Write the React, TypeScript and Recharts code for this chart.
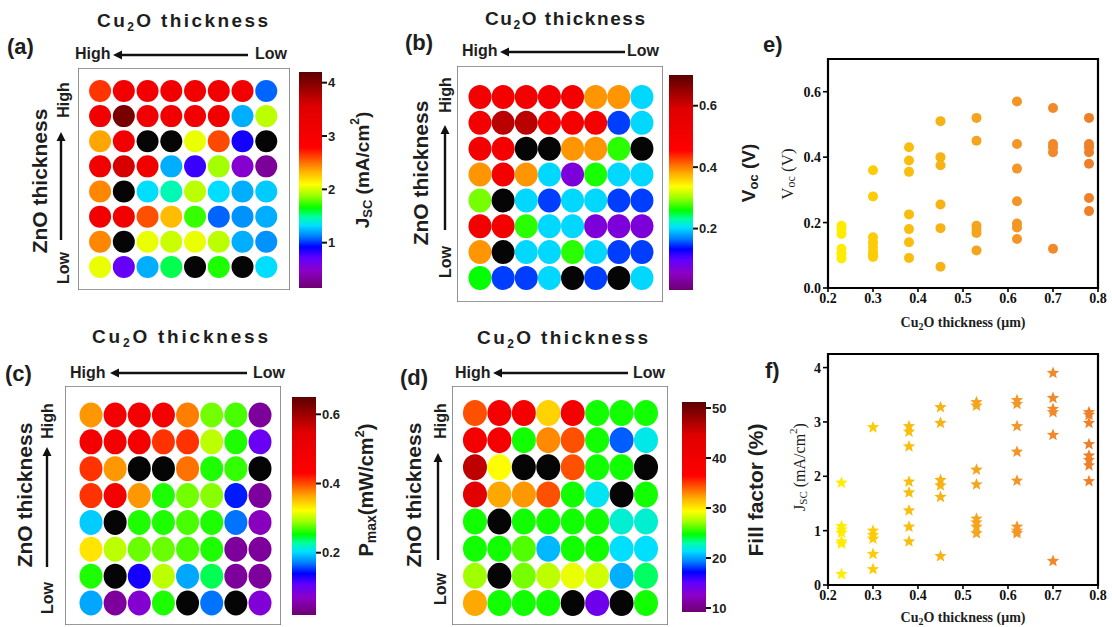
import React from 'react';
import { ScatterChart, Scatter, XAxis, YAxis, ReferenceArea } from 'recharts';

const SANS = '"Liberation Sans", Arial, sans-serif';
const SERIF = '"Liberation Serif", "Times New Roman", serif';
const INK = '#1e1e1e';

// rainbow colormap shared by the four maps and their colour bars
const CMAP_POS = [0, 0.08, 0.14, 0.19, 0.24, 0.29, 0.33, 0.37, 0.43, 0.48, 0.54, 0.6, 0.65, 0.84, 1];
const CMAP_HEX = [
  '#6e0070', '#8c00c8', '#6000ff', '#0000ff', '#0080ff', '#00e0ff', '#00ffa0', '#00ff00',
  '#a0ff00', '#ffff00', '#ffb000', '#ff5000', '#ff0000', '#e00000', '#5a0000',
];

// 8 x 8 device maps, rows = ZnO high -> low, columns = Cu2O high -> low; null = dead cell
const JSC_MAP = [
  [2.65, 3.1, 3.1, 3.1, 3.1, 3.1, 3.1, 1.08],
  [3.1, 4.05, 3.1, 3.1, 3.1, 3.1, 1.22, 1.95],
  [2.36, 3.1, null, null, 2.05, 2.6, 0.88, null],
  [3.1, 3.6, 3.1, 1.22, 0.8, 1.9, 0.51, 0.31],
  [2.44, null, 1.32, 1.45, 1.95, 1.32, 1.22, 1.28],
  [3.1, 3.1, 2.58, 2.3, 1.73, 1.08, 1.16, 1.22],
  [2.44, null, 2.05, 1.98, 2.05, 1.95, 1.22, 1.16],
  [2.05, 0.68, 1.22, 1.57, null, 1.69, null, 1.32],
];
const VOC_MAP = [
  [0.5, 0.5, 0.5, 0.5, 0.5, 0.39, 0.39, 0.2],
  [0.5, 0.62, 0.62, 0.5, 0.5, 0.5, 0.15, 0.2],
  [0.5, 0.5, null, null, 0.39, 0.39, 0.27, null],
  [0.39, 0.5, 0.39, 0.2, 0.07, 0.265, 0.2, 0.2],
  [0.29, null, 0.2, 0.15, 0.2, 0.2, 0.15, 0.15],
  [0.5, 0.5, 0.27, 0.2, 0.2, 0.07, 0.07, 0.07],
  [0.39, null, 0.2, 0.2, 0.27, 0.2, 0.15, 0.15],
  [0.26, 0.15, 0.15, 0.2, null, 0.15, null, 0.2],
];
const PMAX_MAP = [
  [0.37, 0.47, 0.47, 0.47, 0.38, 0.28, 0.27, 0.045],
  [0.47, 0.47, 0.47, 0.41, 0.41, 0.3, 0.26, 0.1],
  [0.41, 0.37, null, null, 0.385, 0.26, 0.265, null],
  [0.41, 0.47, 0.37, 0.26, 0.28, 0.285, 0.146, 0.045],
  [0.196, null, 0.26, 0.26, 0.27, 0.26, 0.168, 0.064],
  [0.335, 0.3, 0.278, 0.278, 0.27, 0.26, 0.045, 0.045],
  [0.26, null, 0.133, 0.3, 0.184, 0.24, 0.045, 0.045],
  [0.184, 0.045, 0.077, 0.26, null, 0.168, null, 0.08],
];
const FF_MAP = [
  [34.4, 39.4, 39.4, 30.8, 39.4, 25, 25, 25],
  [39.4, 39.4, 25, 32.9, 34.4, 25, 18.7, 21.8],
  [46.2, 29.4, null, null, 34.4, 25, 25, null],
  [44, 32.1, 32.5, 34.4, 25, 21.6, null, 25],
  [25, null, 25, 25, 25, 25, 22.2, 22.2],
  [25, 25, 26, 20.5, 25, 25, 21.4, 21.4],
  [27.3, null, 26.6, 27.9, 28.9, 28.3, 20.3, 23.7],
  [32.1, 25, 25, 25, null, 14.2, null, 25],
];

const JSC_RANGE = [0.15, 4.2];
const VOC_RANGE = [0, 0.7];
const PMAX_RANGE = [0.02, 0.65];
const FF_RANGE = [9.2, 51.2];
const JSC_TICKS = [1, 2, 3, 4];
const VOC_TICKS = [0.2, 0.4, 0.6];
const PMAX_TICKS = [0.2, 0.4, 0.6];
const FF_TICKS = [10, 20, 30, 40, 50];

// scatter summaries vs Cu2O thickness (um)
const THICKNESS = [0.23, 0.3, 0.38, 0.45, 0.53, 0.62, 0.7, 0.78];
const VOC_VS_T = [
  [0.19, 0.18, 0.165, 0.12, 0.105, 0.09],
  [0.36, 0.28, 0.155, 0.14, 0.125, 0.11, 0.1, 0.095],
  [0.43, 0.39, 0.355, 0.225, 0.18, 0.14, 0.092],
  [0.51, 0.4, 0.375, 0.255, 0.183, 0.065],
  [0.52, 0.45, 0.19, 0.18, 0.168, 0.115],
  [0.57, 0.44, 0.365, 0.265, 0.197, 0.185, 0.15],
  [0.55, 0.44, 0.43, 0.415, 0.12],
  [0.52, 0.44, 0.43, 0.415, 0.38, 0.275, 0.235],
];
const JSC_VS_T = [
  [1.88, 1.08, 1.02, 0.96, 0.8, 0.76, 0.2],
  [2.9, 1.0, 0.92, 0.85, 0.57, 0.29],
  [2.92, 2.82, 2.55, 1.9, 1.7, 1.37, 1.07, 0.8],
  [3.27, 2.98, 1.93, 1.83, 1.62, 0.53],
  [3.36, 3.3, 2.12, 1.85, 1.22, 1.15, 1.07, 0.95],
  [3.4, 3.33, 2.92, 2.45, 1.92, 1.07, 1.0, 0.95],
  [3.9, 3.44, 3.24, 3.18, 2.76, 0.44],
  [3.18, 3.13, 2.98, 2.59, 2.38, 2.3, 2.2, 1.91],
];
const GROUP_COLORS = ['#ffec00', '#fdcc06', '#f9bd0e', '#f7b214', '#f5a41e', '#f39626', '#f1892a', '#ef802a'];
const T_TICKS = [0.2, 0.3, 0.4, 0.5, 0.6, 0.7, 0.8];
const VOC_AXIS_TICKS = [0, 0.2, 0.4, 0.6];
const JSC_AXIS_TICKS = [0, 1, 2, 3, 4];

function hexRgb(h: string) {
  const n = parseInt(h.slice(1), 16);
  return [(n >> 16) & 255, (n >> 8) & 255, n & 255];
}

function cmap(t: number) {
  const u = Math.max(0, Math.min(1, t));
  let i = 0;
  while (i < CMAP_POS.length - 2 && u > CMAP_POS[i + 1]) i++;
  const f = (u - CMAP_POS[i]) / (CMAP_POS[i + 1] - CMAP_POS[i]);
  const a = hexRgb(CMAP_HEX[i]);
  const b = hexRgb(CMAP_HEX[i + 1]);
  const c = a.map((v, k) => Math.round(v + (b[k] - v) * f));
  return `rgb(${c[0]},${c[1]},${c[2]})`;
}

interface MapProps {
  grid: (number | null)[][];
  range: number[];
  left: number;
  top: number;
  width: number;
  height: number;
  xDomain: [number, number];
  yDomain: [number, number];
  rx: number;
  ry: number;
}

function DeviceMap({ grid, range, left, top, width, height, xDomain, yDomain, rx, ry }: MapProps) {
  const cells = grid.flatMap((row, r) => row.map((v, c) => ({ col: c + 1, row: r + 1, v })));
  const [lo, hi] = range;
  return (
    <div style={{ position: 'absolute', left, top }}>
      <ScatterChart width={width} height={height} margin={{ top: 0, right: 0, bottom: 0, left: 0 }}>
        <XAxis type="number" dataKey="col" domain={xDomain} allowDataOverflow hide />
        <YAxis type="number" dataKey="row" domain={yDomain} allowDataOverflow reversed hide />
        <ReferenceArea
          x1={xDomain[0]} x2={xDomain[1]} y1={yDomain[0]} y2={yDomain[1]}
          fill="none" stroke="#7a7a7a" strokeWidth={1.6} ifOverflow="visible"
        />
        <Scatter
          data={cells}
          isAnimationActive={false}
          shape={(p: any) => (
            <ellipse
              cx={p.cx} cy={p.cy} rx={rx} ry={ry}
              fill={p.payload.v == null ? '#050505' : cmap((p.payload.v - lo) / (hi - lo))}
            />
          )}
        />
      </ScatterChart>
    </div>
  );
}

interface BarProps {
  id: string;
  range: number[];
  ticks: number[];
  left: number;
  top: number;
  width: number;
  height: number;
  fmt: (v: number) => string;
}

// pad keeps the end tick labels inside the svg
const BAR_PAD = 10;

function ColorBar({ id, range, ticks, left, top, width, height, fmt }: BarProps) {
  return (
    <div style={{ position: 'absolute', left, top: top - BAR_PAD }}>
      <ScatterChart
        width={width + 44}
        height={height + 2 * BAR_PAD}
        margin={{ top: BAR_PAD, right: 0, bottom: BAR_PAD, left: 0 }}
      >
        <defs>
          <linearGradient id={id} x1="0" y1="1" x2="0" y2="0">
            {CMAP_POS.map((p, i) => (
              <stop key={i} offset={`${p * 100}%`} stopColor={CMAP_HEX[i]} />
            ))}
          </linearGradient>
        </defs>
        <XAxis type="number" dataKey="x" domain={[0, 1]} allowDataOverflow hide />
        <YAxis
          type="number"
          dataKey="y"
          orientation="right"
          width={44}
          domain={range}
          allowDataOverflow
          ticks={ticks}
          interval={0}
          tickFormatter={fmt}
          axisLine={false}
          tickSize={5}
          tickMargin={1}
          tickLine={{ stroke: '#111', strokeWidth: 2 }}
          tick={{ fill: INK, fontSize: 13, fontWeight: 700, fontFamily: SANS }}
        />
        <ReferenceArea x1={0} x2={1} y1={range[0]} y2={range[1]} fill={`url(#${id})`} fillOpacity={1} stroke="none" />
        <Scatter data={[]} isAnimationActive={false} />
      </ScatterChart>
    </div>
  );
}

function Star({ cx, cy, fill }: { cx: number; cy: number; fill: string }) {
  const pts: string[] = [];
  for (let i = 0; i < 10; i++) {
    const r = i % 2 === 0 ? 6.5 : 2.8;
    const a = -Math.PI / 2 + (i * Math.PI) / 5;
    pts.push(`${cx + r * Math.cos(a)},${cy + r * Math.sin(a)}`);
  }
  return <polygon points={pts.join(' ')} fill={fill} />;
}

interface TrendProps {
  left: number;
  top: number;
  height: number;
  series: number[][];
  yDomain: [number, number];
  yTicks: number[];
  yFmt: (v: number) => string;
  marker: 'dot' | 'star';
}

function TrendPanel({ left, top, height, series, yDomain, yTicks, yFmt, marker }: TrendProps) {
  const tickStyle = { fill: '#111', fontSize: 14, fontWeight: 700, fontFamily: SERIF };
  return (
    <div style={{ position: 'absolute', left, top }}>
      <ScatterChart width={350} height={height} margin={{ top: 19, right: 12, bottom: 7, left: 28 }}>
        <XAxis
          type="number" dataKey="x" domain={[0.2, 0.8]} allowDataOverflow
          ticks={T_TICKS} interval={0} tickFormatter={(v: number) => v.toFixed(1)}
          axisLine={false} tickSize={4} tickMargin={1} height={20}
          tickLine={{ stroke: '#000', strokeWidth: 1.6 }} tick={tickStyle}
        />
        <YAxis
          type="number" dataKey="y" domain={yDomain} allowDataOverflow
          ticks={yTicks} interval={0} tickFormatter={yFmt}
          axisLine={false} tickSize={5} tickMargin={2} width={40}
          tickLine={{ stroke: '#000', strokeWidth: 1.6 }} tick={tickStyle}
        />
        <ReferenceArea
          x1={0.2} x2={0.8} y1={yDomain[0]} y2={yDomain[1]}
          fill="none" stroke="#000" strokeWidth={2.2} ifOverflow="visible"
        />
        {series.map((vals, g) => (
          <Scatter
            key={g}
            data={vals.map((y) => ({ x: THICKNESS[g], y }))}
            fill={GROUP_COLORS[g]}
            isAnimationActive={false}
            shape={(p: any) =>
              marker === 'star' ? (
                <Star cx={p.cx} cy={p.cy} fill={GROUP_COLORS[g]} />
              ) : (
                <circle cx={p.cx} cy={p.cy} r={5} fill={GROUP_COLORS[g]} />
              )
            }
          />
        ))}
      </ScatterChart>
    </div>
  );
}

function CuTitle({ x, y, len }: { x: number; y: number; len: number }) {
  return (
    <text x={x} y={y} textLength={len} lengthAdjust="spacing" fontFamily={SANS} fontWeight={700} fontSize={19} fill={INK}>
      Cu<tspan dy={4} fontSize={12}>2</tspan>
      <tspan dy={-4}>O thickness</tspan>
    </text>
  );
}

function HArrow({ head, tail, y }: { head: number; tail: number; y: number }) {
  return (
    <g>
      <line x1={head + 6} y1={y} x2={tail} y2={y} stroke="#111" strokeWidth={2.4} />
      <polygon points={`${head},${y} ${head + 9},${y - 4.5} ${head + 9},${y + 4.5}`} fill="#111" />
    </g>
  );
}

function VArrow({ x, head, tail }: { x: number; head: number; tail: number }) {
  return (
    <g>
      <line x1={x} y1={head + 6} x2={x} y2={tail} stroke="#111" strokeWidth={2.4} />
      <polygon points={`${x},${head} ${x - 4.5},${head + 9} ${x + 4.5},${head + 9}`} fill="#111" />
    </g>
  );
}

function VText({ x, y, size, children, family = SANS, weight = 700 }: any) {
  return (
    <text
      transform={`translate(${x},${y}) rotate(-90)`}
      textAnchor="middle"
      dominantBaseline="central"
      fontFamily={family}
      fontWeight={weight}
      fontSize={size}
      fill={INK}
    >
      {children}
    </text>
  );
}

function MapFrameText({ letter, lx, ly, title, hi, arrowY, arrowHead, arrowTail, lowX, side }: any) {
  return (
    <g>
      <CuTitle {...title} />
      <text x={lx} y={ly} fontFamily={SANS} fontWeight={700} fontSize={22} fill={INK}>{letter}</text>
      <text x={hi.x} y={hi.y} fontFamily={SANS} fontWeight={700} fontSize={16} fill={INK}>High</text>
      <HArrow head={arrowHead} tail={arrowTail} y={arrowY} />
      <text x={lowX} y={hi.y} fontFamily={SANS} fontWeight={700} fontSize={16} fill={INK}>Low</text>
      <VText x={side.zx} y={side.zy} size={21}>ZnO thickness</VText>
      <VText x={side.hx} y={side.hy} size={16}>High</VText>
      <VText x={side.hx} y={side.ly} size={16}>Low</VText>
      <VArrow x={side.ax} head={side.aHead} tail={side.aTail} />
    </g>
  );
}

function Annotations() {
  return (
    <svg width={1112} height={627} style={{ position: 'absolute', left: 0, top: 0, pointerEvents: 'none' }}>
      <MapFrameText
        letter="(a)" lx={7} ly={54} title={{ x: 97, y: 27, len: 171 }}
        hi={{ x: 75, y: 59 }} arrowY={55} arrowHead={113} arrowTail={248} lowX={255}
        side={{ zx: 39, zy: 181, hx: 63, hy: 100, ly: 268, ax: 61, aHead: 132, aTail: 240 }}
      />
      <MapFrameText
        letter="(b)" lx={405} ly={50} title={{ x: 485, y: 25, len: 160 }}
        hi={{ x: 462, y: 56 }} arrowY={52} arrowHead={500} arrowTail={625} lowX={627}
        side={{ zx: 420, zy: 173, hx: 445, hy: 95, ly: 262, ax: 445, aHead: 125, aTail: 230 }}
      />
      <MapFrameText
        letter="(c)" lx={5} ly={381} title={{ x: 92, y: 343, len: 176 }}
        hi={{ x: 70, y: 378 }} arrowY={373} arrowHead={110} arrowTail={247} lowX={253}
        side={{ zx: 24, zy: 495, hx: 47, hy: 421, ly: 598, ax: 47, aHead: 447, aTail: 567 }}
      />
      <MapFrameText
        letter="(d)" lx={400} ly={385} title={{ x: 477, y: 344, len: 171 }}
        hi={{ x: 455, y: 378 }} arrowY={373} arrowHead={493} arrowTail={628} lowX={633}
        side={{ zx: 413, zy: 495, hx: 440, hy: 421, ly: 589, ax: 438, aHead: 453, aTail: 560 }}
      />

      {/* colour bar titles */}
      <VText x={362} y={170} size={19}>
        J<tspan dy={5} fontSize={13}>SC</tspan>
        <tspan dy={-5}> (mA/cm</tspan>
        <tspan dy={-7} fontSize={12}>2</tspan>
        <tspan dy={7}>)</tspan>
      </VText>
      <VText x={748} y={173} size={19}>
        V<tspan dy={5} fontSize={13}>oc</tspan>
        <tspan dy={-5}> (V)</tspan>
      </VText>
      <VText x={366} y={490} size={20}>
        P<tspan dy={5} fontSize={14}>max</tspan>
        <tspan dy={-5}>(mW/cm</tspan>
        <tspan dy={-7} fontSize={13}>2</tspan>
        <tspan dy={7}>)</tspan>
      </VText>
      <VText x={755} y={490} size={21}>Fill factor (%)</VText>

      {/* trend panels */}
      <text x={763} y={52} fontFamily={SANS} fontWeight={700} fontSize={22} fill={INK}>e)</text>
      <text x={765} y={378} fontFamily={SANS} fontWeight={700} fontSize={22} fill={INK}>f)</text>
      {[327, 622].map((y) => (
        <text key={y} x={963} y={y} textAnchor="middle" fontFamily={SERIF} fontWeight={700} fontSize={14} fill={INK}>
          Cu<tspan dy={3} fontSize={10}>2</tspan>
          <tspan dy={-3}>O thickness (μm)</tspan>
        </text>
      ))}
      <VText x={787} y={174} size={17} family={SERIF} weight={400}>
        V<tspan dy={4} fontSize={12}>oc</tspan>
        <tspan dy={-4}> (V)</tspan>
      </VText>
      <VText x={799} y={467} size={16} family={SERIF} weight={400}>
        J<tspan dy={4} fontSize={11}>SC</tspan>
        <tspan dy={-4}> (mA/cm</tspan>
        <tspan dy={-6} fontSize={11}>2</tspan>
        <tspan dy={6}>)</tspan>
      </VText>
    </svg>
  );
}

export default function App() {
  const one = (v: number) => v.toFixed(1);
  const int = (v: number) => String(v);
  return (
    <div style={{ position: 'absolute', left: 0, top: 0, width: 1112, height: 627, background: '#fff', overflow: 'hidden' }}>
      <DeviceMap grid={JSC_MAP} range={JSC_RANGE} left={78} top={68} width={212} height={222}
        xDomain={[0.07, 9.0]} yDomain={[0.085, 8.92]} rx={11} ry={11} />
      <DeviceMap grid={VOC_MAP} range={VOC_RANGE} left={457} top={66} width={206} height={236}
        xDomain={[0.006, 8.91]} yDomain={[-0.2, 8.93]} rx={11.5} ry={12} />
      <DeviceMap grid={PMAX_MAP} range={PMAX_RANGE} left={65} top={386} width={216} height={239}
        xDomain={[-0.077, 8.87]} yDomain={[-0.08, 8.82]} rx={11.5} ry={12.5} />
      <DeviceMap grid={FF_MAP} range={FF_RANGE} left={452} top={386} width={216} height={239}
        xDomain={[0.06, 8.9]} yDomain={[0.005, 8.81]} rx={12} ry={13} />

      <ColorBar id="cbJsc" range={JSC_RANGE} ticks={JSC_TICKS} fmt={int} left={299} top={72} width={23} height={216} />
      <ColorBar id="cbVoc" range={VOC_RANGE} ticks={VOC_TICKS} fmt={one} left={669} top={75} width={24} height={215} />
      <ColorBar id="cbPmax" range={PMAX_RANGE} ticks={PMAX_TICKS} fmt={one} left={292} top={397} width={24} height={218} />
      <ColorBar id="cbFf" range={FF_RANGE} ticks={FF_TICKS} fmt={int} left={682} top={402} width={24} height={210} />

      <TrendPanel left={760} top={40} height={275} series={VOC_VS_T} yDomain={[0, 0.7]}
        yTicks={VOC_AXIS_TICKS} yFmt={one} marker="dot" />
      <TrendPanel left={760} top={335} height={277} series={JSC_VS_T} yDomain={[0, 4.25]}
        yTicks={JSC_AXIS_TICKS} yFmt={int} marker="star" />

      <Annotations />
    </div>
  );
}
